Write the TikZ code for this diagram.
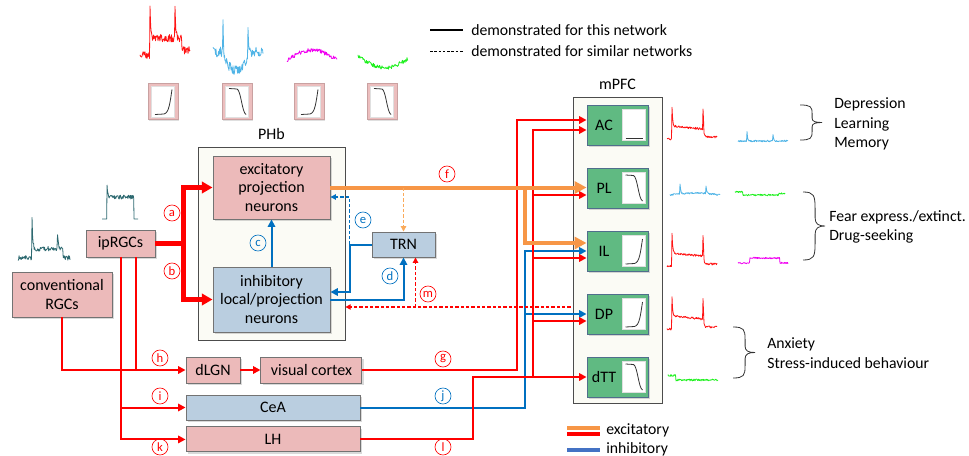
\documentclass[tikz,border=0pt]{standalone}
\usepackage{fontspec}
\setmainfont{Carlito}
\usetikzlibrary{arrows.meta,calc,positioning,shadows}
\definecolor{exred}{RGB}{255,0,0}
\definecolor{exorange}{RGB}{247,150,70}
\definecolor{lightorange}{RGB}{250,170,90}
\definecolor{inblue}{RGB}{0,112,192}
\definecolor{legblue}{RGB}{68,114,196}
\definecolor{pinkfill}{RGB}{236,186,186}
\definecolor{iconpink}{RGB}{236,190,190}
\definecolor{bluefill}{RGB}{186,206,224}
\definecolor{greenfill}{RGB}{96,186,130}
\definecolor{greenedge}{RGB}{80,110,140}
\definecolor{framefill}{RGB}{251,251,245}
\definecolor{trred}{RGB}{255,20,20}
\definecolor{trblue}{RGB}{80,180,230}
\definecolor{trmag}{RGB}{240,0,240}
\definecolor{trgreen}{RGB}{30,240,30}
\definecolor{trteal}{RGB}{45,105,112}

% noisy recordings: [length]{colour}{x}{baseline y}{shape}
\newcommand{\trace}[5][50]{\draw[trace,#2] plot[domain=0:#1,samples=101] ({#3+\x},{#4-(#5)});}
% curly bracket: x, top, bottom, width
\newcommand{\bracket}[4]{%
  \begin{scope}[shift={(#1,#2)},xscale=#4,yscale=#3-#2]
  \draw[brc] (0,0) .. controls (0.5,0) and (0.55,0.05) .. (0.55,0.25) -- (0.55,0.38)
    .. controls (0.55,0.47) and (0.7,0.5) .. (1,0.5)
    .. controls (0.7,0.5) and (0.55,0.53) .. (0.55,0.62) -- (0.55,0.75)
    .. controls (0.55,0.95) and (0.5,1) .. (0,1);
  \end{scope}}

\begin{document}
\begin{tikzpicture}[x=0.75pt,y=-0.75pt]

\tikzset{sz/.style 2 args={minimum width=#1*0.75pt,minimum height=#2*0.75pt},
box/.style={draw=black!55,line width=0.7pt,inner sep=0pt,align=center,font=\fontsize{12}{14}\selectfont,
  drop shadow={shadow xshift=1.2pt,shadow yshift=-1.2pt,opacity=0.3}},
pinkbox/.style={box,fill=pinkfill},
bluebox/.style={box,fill=bluefill},
greenbox/.style={box,fill=greenfill,draw=greenedge},
frame/.style={draw=black!70,fill=framefill,line width=0.6pt,inner sep=0pt},
iconbox/.style={fill=iconpink,draw=iconpink!85!black,line width=0.4pt,sz={30}{36},
  drop shadow={shadow xshift=1pt,shadow yshift=-1pt,opacity=0.25}},
txt/.style={font=\fontsize{12}{14.6}\selectfont,inner sep=0pt},
behtxt/.style={font=\fontsize{11.8}{14.6}\selectfont,inner sep=0pt,anchor=west,align=left},
legtxt/.style={font=\fontsize{11.8}{13}\selectfont,inner sep=0pt,anchor=west},
lab/.style={circle,draw,inner sep=0pt,minimum size=12pt,line width=0.5pt,font=\fontsize{9.5}{9.5}\selectfont},
labr/.style={lab,exred},
labb/.style={lab,inblue},
>={Triangle[length=5.5pt,width=5.5pt]},
exline/.style={draw=exred,line width=1.5pt},
exthick/.style={draw=exred,line width=3.2pt,>={Triangle[length=8pt,width=8.5pt]}},
orthick/.style={draw=exorange,line width=3pt,>={Triangle[length=9pt,width=9pt]}},
inhline/.style={draw=inblue,line width=1.5pt},
exdash/.style={draw=exred,line width=0.8pt,dash pattern=on 2.5pt off 1.5pt,>={Triangle[length=4pt,width=4pt]}},
inhdash/.style={draw=inblue,line width=0.8pt,dash pattern=on 2.5pt off 1.5pt,>={Triangle[length=4pt,width=4pt]}},
ordash/.style={draw=lightorange,line width=0.8pt,dash pattern=on 2.5pt off 1.5pt,>={Triangle[length=4pt,width=4pt]}},
trace/.style={line width=0.6pt,line join=round},
curve/.style={draw=black!80,line width=0.6pt},
brc/.style={draw=black!80,line width=0.6pt},
declare function={stp(\t,\c)=(\t>=\c); spk(\t,\c)=(\t>=\c)*exp(-min(max(\t-\c,0)*1.5,9));},
sigup/.pic={\fill[white,draw=black!12,line width=0.3pt] (-11.5,-15.5) rectangle (11.5,15.5);
  \draw[curve] (-8,13) -- (1,12.5) .. controls (6,11.5) and (7,1) .. (9,-12);},
sigdown/.pic={\fill[white,draw=black!12,line width=0.3pt] (-11.5,-15.5) rectangle (11.5,15.5);
  \draw[curve] (-8,-13) -- (0,-12.5) .. controls (4,-11) and (5,11) .. (9,13);},
sigflat/.pic={\fill[white,draw=black!12,line width=0.3pt] (-11.5,-15.5) rectangle (11.5,15.5);
  \draw[curve] (-8,13) -- (9,13);}}

\useasboundingbox (0,0) rectangle (969,456);
\clip (0,0) rectangle (969,456);
\pgfmathsetseed{11}

% Recordings on top
\trace{trred}{140}{55}{stp(\x,10)*17-stp(\x,42)*12+spk(\x,10)*31+spk(\x,35)*31+rand*4}
\trace{trblue}{213}{52}{spk(\x,10)*29+spk(\x,35)*26-(stp(\x,11)-stp(\x,35))*(8+10*sin(7.5*(\x-11)))+rand*5}
\trace{trmag}{287}{60}{10*sin(3.6*\x)+rand*2}
\trace{trgreen}{358}{56}{-10*sin(3.6*\x)-0.06*\x+rand*2}
\foreach \k/\xx in {up/163,down/237,up/309,down/382}{
  \node[iconbox] (icon\xx) at (\xx,101.5) {};
  \pic at (\xx,101.5) {sig\k};
}

% Legend
\draw[black,line width=1.5pt] (430,30) -- (463,30);
\node[legtxt] (solidleg) at (471,30) {demonstrated for this network};
\draw[black,line width=0.7pt,dash pattern=on 2pt off 1.2pt] (430,51) -- (463,51);
\node[legtxt] (dashleg) at (471,51) {demonstrated for similar networks};

% Frames
\node[frame,sz={147}{193}] (PHb) at (271.5,243.5) {};
\node[txt,above=5pt of PHb] (PHb-l) {PHb};
\node[frame,sz={89}{306}] (mPFC) at (617.5,250) {};
\node[txt,above=5pt of mPFC] (mPFC-l) {mPFC};

% Nodes
\node[pinkbox,sz={117}{63}] (exc) at (271.5,187.5) {excitatory\\projection\\neurons};
\node[bluebox,sz={117}{65}] (inh) at (271.5,299.5) {inhibitory\\local/projection\\neurons};
\node[bluebox,sz={63}{25}] (TRN) at (403.5,244.5) {TRN};
\node[pinkbox,sz={69}{27}] (ipRGC) at (120.5,243.5) {ipRGCs};
\node[pinkbox,sz={100}{45}] (conv) at (62,294.5) {conventional\\RGCs};
\node[pinkbox,sz={54}{26}] (dLGN) at (213,370) {dLGN};
\node[pinkbox,sz={101}{26}] (vc) [right=15pt of dLGN] {visual cortex};
\node[bluebox,sz={174}{25}] (CeA) at (273,407.5) {CeA};
\node[pinkbox,sz={174}{25}] (LH) [below=4.5pt of CeA] {LH};
\foreach \n/\y/\kind in {AC/125/flat,PL/188/down,IL/251/up,DP/314/up,dTT/377/down}{
  \node[greenbox,sz={61}{40}] (\n) at (617.5,\y) {};
  \node[txt] (\n-t) at (604,\y) {\n};
  \pic at (633.5,\y) {sig\kind};
}

% teal recordings of the RGCs
\trace[36]{trteal}{102}{219}{(stp(\x,5)-stp(\x,32))*(22+14*spk(\x,5)+rand*2)}
\trace[52]{trteal}{18}{258}{(stp(\x,14)-stp(\x,45))*9+spk(\x,14)*34+spk(\x,39)*34+rand*2.5}

% Recordings in mPFC
\trace{trred}{667}{139}{(stp(\x,5)-stp(\x,37))*(13-0.1*(\x-5))+spk(\x,5)*19+spk(\x,36)*20+stp(\x,37)*2+rand*1}
\trace{trred}{667}{266}{(stp(\x,5)-stp(\x,37))*(13-0.1*(\x-5))+spk(\x,5)*19+spk(\x,36)*20+stp(\x,37)*2+rand*1}
\trace{trred}{667}{329}{(stp(\x,5)-stp(\x,37))*(13-0.1*(\x-5))+spk(\x,5)*19+spk(\x,36)*20+stp(\x,37)*2+rand*1}
\trace{trblue}{738}{141}{spk(\x,9)*9+spk(\x,35)*7+rand*0.8}
\trace{trblue}{670}{195}{spk(\x,10)*10+spk(\x,36)*8+2*sin(3.6*\x)+rand*0.8}
\trace{trgreen}{735}{195}{3*(1-stp(\x,8))+stp(\x,44)*1.5+rand*0.8}
\trace{trmag}{738}{263}{(stp(\x,12)-stp(\x,42))*5+rand*0.8}
\trace{trgreen}{668}{380}{4.5*(1-stp(\x,8))+rand*1}

% Behaviour
\bracket{800}{105}{140}{22}
\node[behtxt] (beh1) at (834,124) {Depression\\Learning\\Memory};
\bracket{803}{192}{260}{22}
\node[behtxt] (beh2) at (829,227) {Fear express./extinct.\\Drug-seeking};
\bracket{733}{327}{378}{22}
\node[behtxt] (beh3) at (767,353) {Anxiety\\Stress-induced behaviour};

% Edges ipRGCs -> PHb
\draw[exthick,->] (ipRGC.east) -- ++(28,0) coordinate (abr) |- (exc.west);
\draw[exthick,->] (abr) |- (inh.west);
\draw[inhline,->] (inh.north) -- (exc.south);
\draw[inhline,->] (TRN.west) -- ++(-22,0) coordinate (ebr) |- ($(inh.east)+(0,-7.5)$);
\draw[inhdash,->] (ebr) |- ($(exc.east)+(0,9.5)$);
\draw[inhline,->] (inh.east) -| (TRN.south);

% Edges to the retina targets
\coordinate (ip1) at ($(ipRGC.south)+(0.5,0)$);
\coordinate (ip2) at ($(ipRGC.south)+(15.5,0)$);
\draw[exline,->] (conv.south) |- (dLGN.west);
\draw[exline] (ip2) -- (ip2 |- dLGN.west);
\draw[exline,->] (ip1) |- (LH.west);
\draw[exline,->] (ip1 |- CeA.west) -- (CeA.west);
\draw[exline,->] (dLGN) -- (vc);

% Edges to mPFC
\draw[exline,->] (vc.east) -- ++(155,0) |- ($(AC.west)+(0,-5)$);
\draw[inhline,->] (CeA.east) -- ++(165,0) coordinate (jbr) |- (IL.west);
\draw[inhline,->] (jbr |- DP.west) -- (DP.west);
\draw[exline,->] (LH.east) -- ++(113,0) |- (dTT.west);
\coordinate (lbr) at ($(dTT.west)+(-54,0)$);
\draw[exline,->] (lbr) |- ($(AC.west)+(0,5)$);
\foreach \t in {PL,IL,DP} \draw[exline,->] ($(lbr |- \t.west)+(0,7)$) -- ($(\t.west)+(0,7)$);
\draw[orthick,->] (exc.east) -- (exc.east -| PL.west);
\draw[orthick,->] (exc.east -| jbr) |- ($(IL.west)+(0,-8)$);
\draw[ordash,->] (exc.east -| TRN.north) -- (TRN.north);

% m
\coordinate (mstart) at ($(DP.west)+(-16,-7)$);
\coordinate (mtop) at ($(TRN.south)+(12,0)$);
\draw[exdash,->] (mstart) -- (mstart -| PHb.east);
\draw[exdash,->] (mtop |- mstart) -- (mtop);

% Letters
\node[labr] (la) at (172,213) {a};
\node[labr] (lb) at (172,271) {b};
\node[labb] (lc) at (258,243) {c};
\node[labb] (ld) at (390,276) {d};
\node[labb] (le) at (363,220) {e};
\node[labr] (lf) at (447,174) {f};
\node[labr] (lg) at (443,359) {g};
\node[labr] (lh) at (160,358) {h};
\node[labr] (li) at (160,396) {i};
\node[labb] (lj) at (443,396) {j};
\node[labr] (lk) at (160,447) {k};
\node[labr] (ll) at (443,447) {l};
\node[labr] (lm) at (428,294) {m};

% Legend excitatory / inhibitory
\draw[exorange,line width=2.4pt] (567,428) -- (600,428);
\draw[exred,line width=2.4pt] (567,434) -- (600,434);
\draw[legblue,line width=2.4pt] (567,450) -- (600,450);
\node[legtxt] (exleg) at (606,430) {excitatory};
\node[legtxt] (inleg) at (606,449) {inhibitory};

\end{tikzpicture}
\end{document}
